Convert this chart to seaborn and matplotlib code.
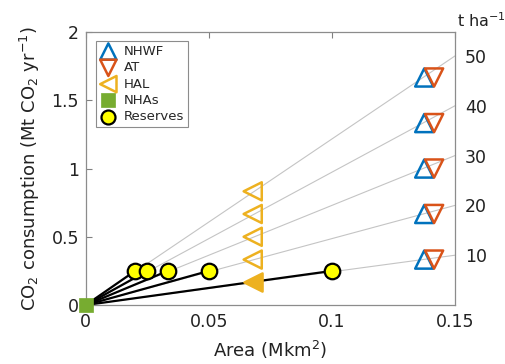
import numpy as np
import pandas as pd
import seaborn as sns
import matplotlib.pyplot as plt

# values
rates = [10, 20, 30, 40, 50]                     # t ha-1, right hand labels
rate_edge_y = [0.365, 0.73, 1.095, 1.46, 1.825]  # CO2 at area 0.15 for each rate
x_edge = 0.15

nhwf_x = [0.1375, 0.1375, 0.1375, 0.1375, 0.1375]
nhwf_y = [0.333, 0.667, 1.0, 1.333, 1.667]
at_x = [0.1415, 0.1415, 0.1415, 0.1415, 0.1415]
at_y = [0.333, 0.667, 1.0, 1.333, 1.667]
hal_x = [0.0678, 0.0678, 0.0678, 0.0678]
hal_y = [0.333, 0.5, 0.667, 0.833]
hal_fill_x = [0.0678]
hal_fill_y = [0.167]
nha_x = [0.0]
nha_y = [0.0]
res_x = [0.02, 0.025, 0.0333, 0.05, 0.1]
res_y = [0.25, 0.25, 0.25, 0.25, 0.25]

c_blue = '#0072BD'
c_orange = '#D95319'
c_yellow = '#EDB120'
c_green = '#77AC30'

sns.set_theme(style="white")
plt.rcParams['font.family'] = ['DejaVu Sans']
plt.rcParams['mathtext.fontset'] = 'dejavusans'

fig = plt.figure(figsize=(5.05, 3.64), dpi=100)
ax = fig.add_axes([0.170, 0.162, 0.731, 0.75])

# gray lines of constant t/ha, from the origin to the right edge
gray = pd.DataFrame({
    'x': [v for r in rates for v in (0.0, x_edge)],
    'y': [v for ye in rate_edge_y for v in (0.0, ye)],
    'u': [r for r in rates for _ in range(2)],
})
sns.lineplot(data=gray, x='x', y='y', units='u', estimator=None,
             color='#c4c4c4', lw=0.8, ax=ax, zorder=1)

# black lines from origin to each reserve
blk = pd.DataFrame({
    'x': [v for rx in res_x for v in (0.0, rx)],
    'y': [v for ry in res_y for v in (0.0, ry)],
    'u': [i for i in range(len(res_x)) for _ in range(2)],
})
sns.lineplot(data=blk, x='x', y='y', units='u', estimator=None,
             color='black', lw=1.6, ax=ax, zorder=2)

sns.scatterplot(x=nhwf_x, y=nhwf_y, marker='^', s=170, color=c_blue,
                facecolor='none', edgecolor=c_blue, linewidth=1.8,
                ax=ax, zorder=4, label='NHWF', clip_on=False)
sns.scatterplot(x=at_x, y=at_y, marker='v', s=170, color=c_orange,
                facecolor='none', edgecolor=c_orange, linewidth=1.8,
                ax=ax, zorder=4, label='AT', clip_on=False)
sns.scatterplot(x=hal_x, y=hal_y, marker='<', s=170, color=c_yellow,
                facecolor='none', edgecolor=c_yellow, linewidth=1.8,
                ax=ax, zorder=4, label='HAL')
sns.scatterplot(x=hal_fill_x, y=hal_fill_y, marker='<', s=170, color=c_yellow,
                edgecolor=c_yellow, linewidth=1.8, ax=ax, zorder=4)
sns.scatterplot(x=nha_x, y=nha_y, marker='s', s=115, color=c_green,
                edgecolor=c_green, linewidth=0.5, ax=ax, zorder=6,
                label='NHAs', clip_on=False)
sns.scatterplot(x=res_x, y=res_y, marker='o', s=125, color='#FFFF00',
                edgecolor='black', linewidth=1.6, ax=ax, zorder=5,
                label='Reserves')

ax.set_xlim(0, 0.15)
ax.set_ylim(0, 2)
ax.set_xticks([0, 0.05, 0.1, 0.15])
ax.set_xticklabels(['0', '0.05', '0.1', '0.15'])
ax.set_yticks([0, 0.5, 1, 1.5, 2])
ax.set_yticklabels(['0', '0.5', '1', '1.5', '2'])
ax.tick_params(direction='in', length=4, width=0.8, color='#808080',
               labelsize=12.5, labelcolor='#222222', top=True, right=True)
ax.tick_params(axis='x', pad=6)
ax.tick_params(axis='y', pad=5)
for sp in ax.spines.values():
    sp.set_color('#8c8c8c')
    sp.set_linewidth(0.9)

ax.set_xlabel('Area (Mkm$^2$)', fontsize=13, color='#222222')
ax.set_ylabel('CO$_2$ consumption (Mt CO$_2$ yr$^{-1}$)', fontsize=13,
              color='#222222')
ax.xaxis.set_label_coords(0.5, -0.125)
ax.yaxis.set_label_coords(-0.12, 0.5)

# right-hand t/ha labels at the ends of the gray lines
ax2 = ax.twinx()
ax2.set_ylim(ax.get_ylim())
ax2.set_yticks(rate_edge_y)
ax2.set_yticklabels([str(r) for r in rates])
ax2.tick_params(length=0, pad=7, labelsize=12.5, labelcolor='#222222')
for sp in ax2.spines.values():
    sp.set_visible(False)
ax.text(1.005, 1.018, 't ha$^{-1}$', transform=ax.transAxes, fontsize=11.5,
        color='#222222', ha='left', va='baseline')

leg = ax.legend(loc='upper left', bbox_to_anchor=(0.027, 0.967),
                fontsize=9.5, frameon=True, fancybox=False, framealpha=1,
                edgecolor='#8c8c8c', borderpad=0.3, labelspacing=0.25,
                handlelength=1.3, handletextpad=0.5, borderaxespad=0,
                markerscale=0.9)
leg.get_frame().set_linewidth(0.8)

fig.savefig('out.png', dpi=100)
